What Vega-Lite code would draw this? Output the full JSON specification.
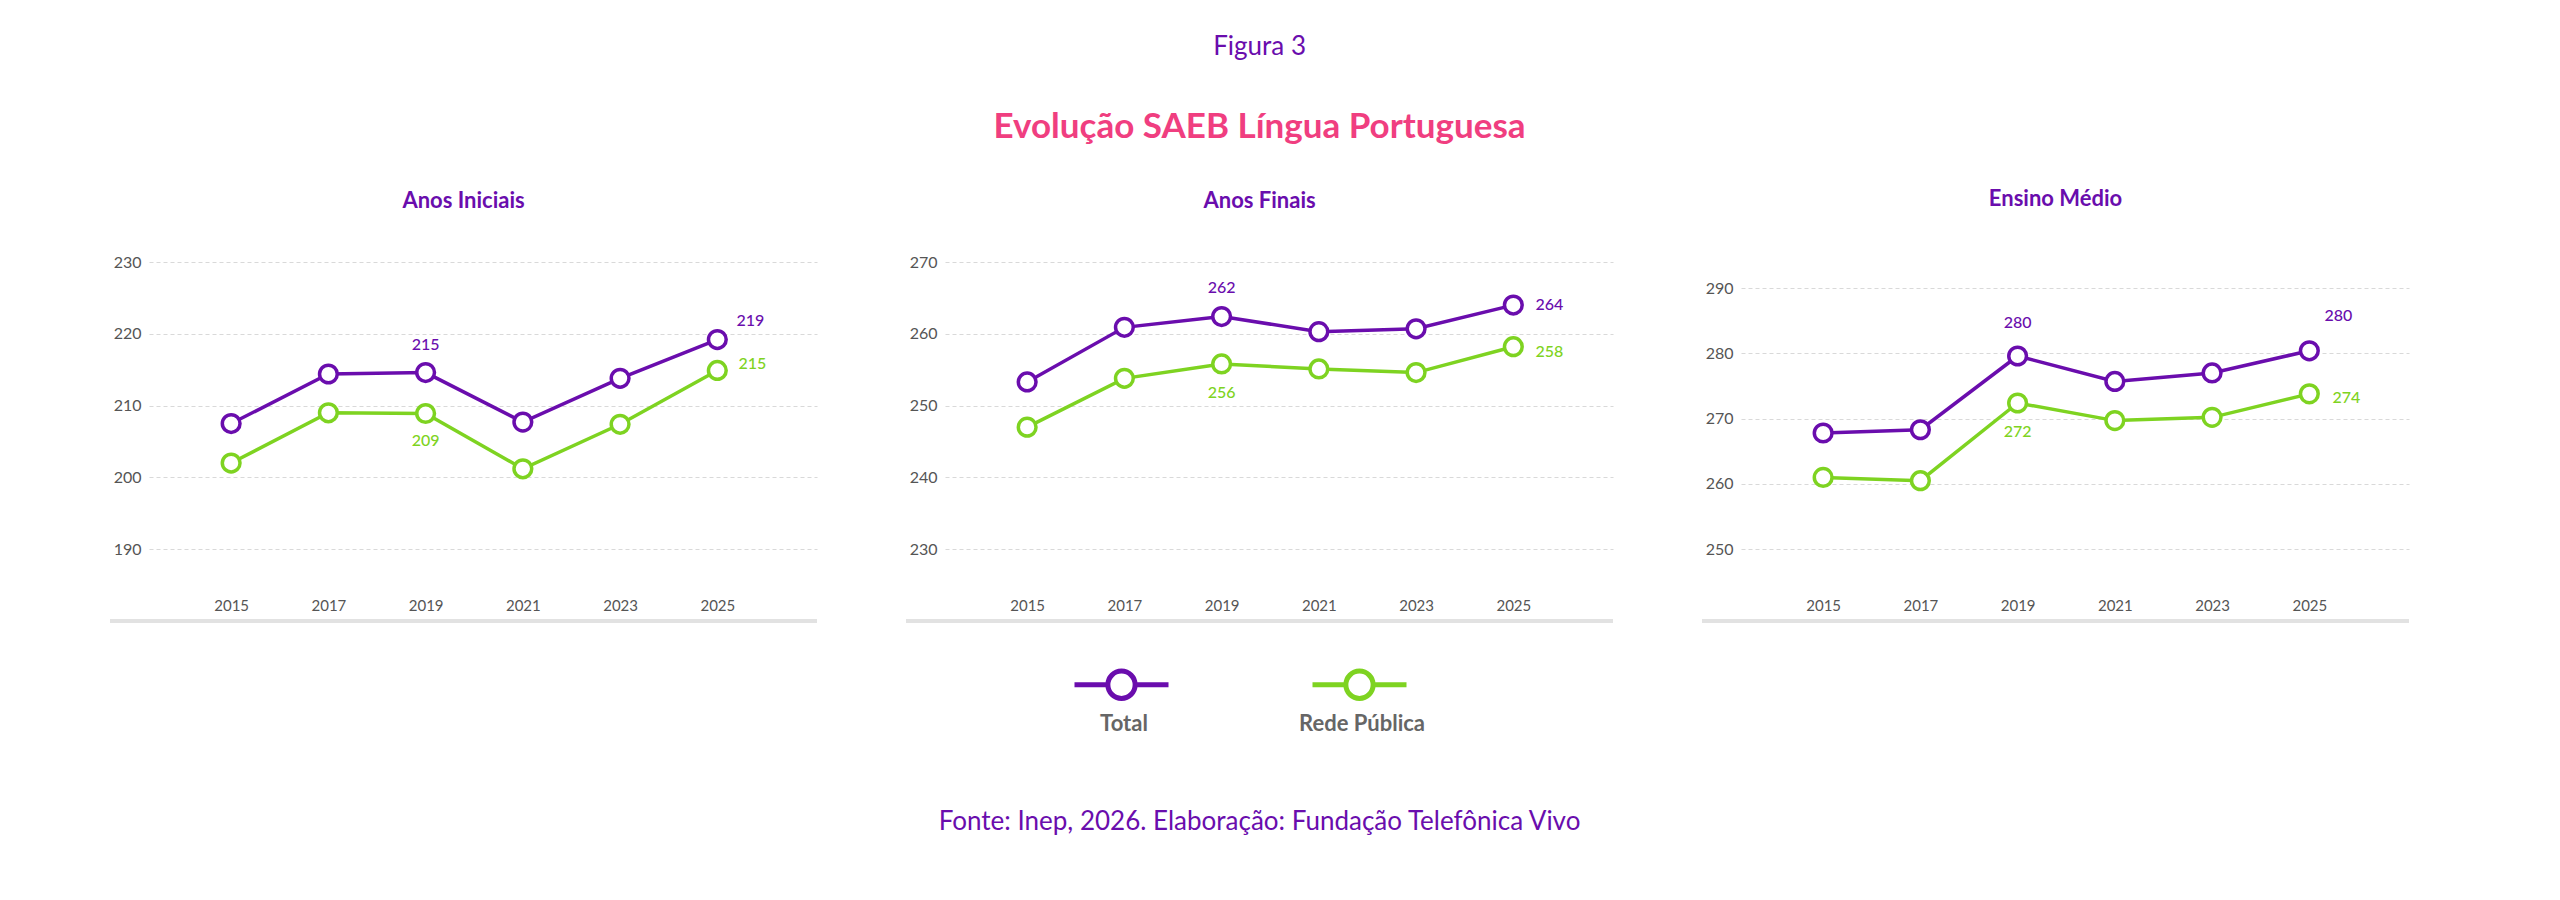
{
  "$schema": "https://vega.github.io/schema/vega-lite/v6.json",
  "padding": {"left": 108, "top": 34, "right": 5, "bottom": 5},
  "data": {
    "values": [
      {"painel": "Anos Iniciais", "serie": "Total", "ano": 2015, "valor": 207.5},
      {"painel": "Anos Iniciais", "serie": "Total", "ano": 2017, "valor": 214.4},
      {"painel": "Anos Iniciais", "serie": "Total", "ano": 2019, "valor": 214.6},
      {"painel": "Anos Iniciais", "serie": "Total", "ano": 2021, "valor": 207.7},
      {"painel": "Anos Iniciais", "serie": "Total", "ano": 2023, "valor": 213.8},
      {"painel": "Anos Iniciais", "serie": "Total", "ano": 2025, "valor": 219.2},
      {"painel": "Anos Iniciais", "serie": "Rede Pública", "ano": 2015, "valor": 202.0},
      {"painel": "Anos Iniciais", "serie": "Rede Pública", "ano": 2017, "valor": 209.0},
      {"painel": "Anos Iniciais", "serie": "Rede Pública", "ano": 2019, "valor": 208.9},
      {"painel": "Anos Iniciais", "serie": "Rede Pública", "ano": 2021, "valor": 201.2},
      {"painel": "Anos Iniciais", "serie": "Rede Pública", "ano": 2023, "valor": 207.4},
      {"painel": "Anos Iniciais", "serie": "Rede Pública", "ano": 2025, "valor": 214.9},
      {"painel": "Anos Finais", "serie": "Total", "ano": 2015, "valor": 253.3},
      {"painel": "Anos Finais", "serie": "Total", "ano": 2017, "valor": 260.9},
      {"painel": "Anos Finais", "serie": "Total", "ano": 2019, "valor": 262.4},
      {"painel": "Anos Finais", "serie": "Total", "ano": 2021, "valor": 260.3},
      {"painel": "Anos Finais", "serie": "Total", "ano": 2023, "valor": 260.7},
      {"painel": "Anos Finais", "serie": "Total", "ano": 2025, "valor": 264.0},
      {"painel": "Anos Finais", "serie": "Rede Pública", "ano": 2015, "valor": 247.0},
      {"painel": "Anos Finais", "serie": "Rede Pública", "ano": 2017, "valor": 253.8},
      {"painel": "Anos Finais", "serie": "Rede Pública", "ano": 2019, "valor": 255.8},
      {"painel": "Anos Finais", "serie": "Rede Pública", "ano": 2021, "valor": 255.1},
      {"painel": "Anos Finais", "serie": "Rede Pública", "ano": 2023, "valor": 254.6},
      {"painel": "Anos Finais", "serie": "Rede Pública", "ano": 2025, "valor": 258.2},
      {"painel": "Ensino Médio", "serie": "Total", "ano": 2015, "valor": 267.8},
      {"painel": "Ensino Médio", "serie": "Total", "ano": 2017, "valor": 268.3},
      {"painel": "Ensino Médio", "serie": "Total", "ano": 2019, "valor": 279.6},
      {"painel": "Ensino Médio", "serie": "Total", "ano": 2021, "valor": 275.7},
      {"painel": "Ensino Médio", "serie": "Total", "ano": 2023, "valor": 277.0},
      {"painel": "Ensino Médio", "serie": "Total", "ano": 2025, "valor": 280.4},
      {"painel": "Ensino Médio", "serie": "Rede Pública", "ano": 2015, "valor": 261.0},
      {"painel": "Ensino Médio", "serie": "Rede Pública", "ano": 2017, "valor": 260.5},
      {"painel": "Ensino Médio", "serie": "Rede Pública", "ano": 2019, "valor": 272.4},
      {"painel": "Ensino Médio", "serie": "Rede Pública", "ano": 2021, "valor": 269.7},
      {"painel": "Ensino Médio", "serie": "Rede Pública", "ano": 2023, "valor": 270.2},
      {"painel": "Ensino Médio", "serie": "Rede Pública", "ano": 2025, "valor": 273.8}
    ]
  },
  "title": {
    "text": "Figura 3",
    "subtitle": "Evolução SAEB Língua Portuguesa",
    "anchor": "middle",
    "frame": "bounds",
    "font": "Lato",
    "fontSize": 26,
    "fontWeight": "normal",
    "color": "#6A0DAD",
    "subtitleFont": "Lato",
    "subtitleFontSize": 35,
    "subtitleFontWeight": "bold",
    "subtitleColor": "#F03E80",
    "subtitlePadding": 50,
    "offset": 43
  },
  "vconcat": [
    {
      "title": {
        "text": "Fonte: Inep, 2026. Elaboração: Fundação Telefônica Vivo",
        "orient": "bottom",
        "anchor": "middle",
        "frame": "bounds",
        "offset": 186,
        "font": "Lato",
        "fontSize": 26,
        "fontWeight": "normal",
        "color": "#6A0DAD"
      },
      "bounds": "flush",
      "spacing": 128,
      "hconcat": [
        {
          "title": {"text": "Anos Iniciais", "offset": 41},
          "width": 668,
          "height": 359,
          "transform": [{"filter": "datum.painel == 'Anos Iniciais'"}],
          "encoding": {
            "x": {"field": "ano", "type": "quantitative", "scale": {"domain": [2013.31, 2027.05], "nice": false, "zero": false}, "axis": {"values": [2015, 2017, 2019, 2021, 2023, 2025]}},
            "y": {"field": "valor", "type": "quantitative", "scale": {"domain": [180, 230], "nice": false, "zero": false}, "axis": {"values": [190, 200, 210, 220, 230]}},
            "color": {"field": "serie", "type": "nominal", "scale": {"domain": ["Total", "Rede Pública"], "range": ["#6A0DAD", "#7ED321"]}, "legend": null}
          },
          "layer": [
            {
              "mark": {"type": "rule", "strokeWidth": 4, "clip": false},
              "encoding": {"x": {"datum": 2012.51}, "x2": {"datum": 2027.05}, "y": {"datum": 180}, "color": {"value": "#e2e2e2"}}
            },
            {
              "mark": {"type": "line", "strokeWidth": 3.5},
              "encoding": {
                "stroke": {
                  "field": "serie", "type": "nominal",
                  "scale": {"domain": ["Total", "Rede Pública"], "range": ["#6A0DAD", "#7ED321"]},
                  "legend": {"orient": "none", "legendX": 923, "legendY": 373, "direction": "horizontal", "title": null, "padding": 0, "columnPadding": 119, "symbolType": "M-1,0L-0.29,0M0.29,0L1,0M0.29,0A0.29,0.29,0,1,1,-0.29,0A0.29,0.29,0,1,1,0.29,0ZM0.29,0A0.29,0.29,0,1,0,-0.29,0A0.29,0.29,0,1,0,0.29,0Z", "symbolSize": 8836, "symbolStrokeWidth": 5, "symbolOpacity": 1, "symbolFillColor": "white", "labelFont": "Lato", "labelFontSize": 22, "labelFontWeight": "bold", "labelColor": "#666666", "labelAlign": "center", "labelOffset": -47, "encoding": {"labels": {"dy": {"value": 39}}}}
                }
              }
            },
            {
              "mark": {"type": "point", "filled": false, "fill": "white", "fillOpacity": 1, "opacity": 1, "size": 314, "strokeWidth": 3.5},
              "encoding": {"stroke": {"field": "serie", "type": "nominal", "scale": {"domain": ["Total", "Rede Pública"], "range": ["#6A0DAD", "#7ED321"]}, "legend": null}}
            },
            {"transform": [{"filter": "datum.ano == 2019 && datum.serie == 'Total'"}], "mark": {"type": "text", "dy": -28}, "encoding": {"text": {"field": "valor", "type": "quantitative", "format": ".0f"}}},
            {"transform": [{"filter": "datum.ano == 2025 && datum.serie == 'Total'"}], "mark": {"type": "text", "dx": 33, "dy": -19}, "encoding": {"text": {"field": "valor", "type": "quantitative", "format": ".0f"}}},
            {"transform": [{"filter": "datum.ano == 2019 && datum.serie == 'Rede Pública'"}], "mark": {"type": "text", "dy": 28}, "encoding": {"text": {"field": "valor", "type": "quantitative", "format": ".0f"}}},
            {"transform": [{"filter": "datum.ano == 2025 && datum.serie == 'Rede Pública'"}], "mark": {"type": "text", "dx": 35, "dy": -6}, "encoding": {"text": {"field": "valor", "type": "quantitative", "format": ".0f"}}}
          ]
        },
        {
          "title": {"text": "Anos Finais", "offset": 41},
          "width": 668,
          "height": 359,
          "transform": [{"filter": "datum.painel == 'Anos Finais'"}],
          "encoding": {
            "x": {"field": "ano", "type": "quantitative", "scale": {"domain": [2013.31, 2027.05], "nice": false, "zero": false}, "axis": {"values": [2015, 2017, 2019, 2021, 2023, 2025]}},
            "y": {"field": "valor", "type": "quantitative", "scale": {"domain": [220, 270], "nice": false, "zero": false}, "axis": {"values": [230, 240, 250, 260, 270]}},
            "color": {"field": "serie", "type": "nominal", "scale": {"domain": ["Total", "Rede Pública"], "range": ["#6A0DAD", "#7ED321"]}, "legend": null}
          },
          "layer": [
            {
              "mark": {"type": "rule", "strokeWidth": 4, "clip": false},
              "encoding": {"x": {"datum": 2012.51}, "x2": {"datum": 2027.05}, "y": {"datum": 220}, "color": {"value": "#e2e2e2"}}
            },
            {
              "mark": {"type": "line", "strokeWidth": 3.5},
              "encoding": {"stroke": {"field": "serie", "type": "nominal", "scale": {"domain": ["Total", "Rede Pública"], "range": ["#6A0DAD", "#7ED321"]}, "legend": null}}
            },
            {
              "mark": {"type": "point", "filled": false, "fill": "white", "fillOpacity": 1, "opacity": 1, "size": 314, "strokeWidth": 3.5},
              "encoding": {"stroke": {"field": "serie", "type": "nominal", "scale": {"domain": ["Total", "Rede Pública"], "range": ["#6A0DAD", "#7ED321"]}, "legend": null}}
            },
            {"transform": [{"filter": "datum.ano == 2019 && datum.serie == 'Total'"}], "mark": {"type": "text", "dy": -29}, "encoding": {"text": {"field": "valor", "type": "quantitative", "format": ".0f"}}},
            {"transform": [{"filter": "datum.ano == 2025 && datum.serie == 'Total'"}], "mark": {"type": "text", "dx": 36, "dy": 0}, "encoding": {"text": {"field": "valor", "type": "quantitative", "format": ".0f"}}},
            {"transform": [{"filter": "datum.ano == 2019 && datum.serie == 'Rede Pública'"}], "mark": {"type": "text", "dy": 29}, "encoding": {"text": {"field": "valor", "type": "quantitative", "format": ".0f"}}},
            {"transform": [{"filter": "datum.ano == 2025 && datum.serie == 'Rede Pública'"}], "mark": {"type": "text", "dx": 36, "dy": 5}, "encoding": {"text": {"field": "valor", "type": "quantitative", "format": ".0f"}}}
          ]
        },
        {
          "title": {"text": "Ensino Médio", "offset": 51},
          "width": 668,
          "height": 359,
          "transform": [{"filter": "datum.painel == 'Ensino Médio'"}],
          "encoding": {
            "x": {"field": "ano", "type": "quantitative", "scale": {"domain": [2013.31, 2027.05], "nice": false, "zero": false}, "axis": {"values": [2015, 2017, 2019, 2021, 2023, 2025]}},
            "y": {"field": "valor", "type": "quantitative", "scale": {"domain": [239, 294], "nice": false, "zero": false}, "axis": {"values": [250, 260, 270, 280, 290]}},
            "color": {"field": "serie", "type": "nominal", "scale": {"domain": ["Total", "Rede Pública"], "range": ["#6A0DAD", "#7ED321"]}, "legend": null}
          },
          "layer": [
            {
              "mark": {"type": "rule", "strokeWidth": 4, "clip": false},
              "encoding": {"x": {"datum": 2012.51}, "x2": {"datum": 2027.05}, "y": {"datum": 239}, "color": {"value": "#e2e2e2"}}
            },
            {
              "mark": {"type": "line", "strokeWidth": 3.5},
              "encoding": {"stroke": {"field": "serie", "type": "nominal", "scale": {"domain": ["Total", "Rede Pública"], "range": ["#6A0DAD", "#7ED321"]}, "legend": null}}
            },
            {
              "mark": {"type": "point", "filled": false, "fill": "white", "fillOpacity": 1, "opacity": 1, "size": 314, "strokeWidth": 3.5},
              "encoding": {"stroke": {"field": "serie", "type": "nominal", "scale": {"domain": ["Total", "Rede Pública"], "range": ["#6A0DAD", "#7ED321"]}, "legend": null}}
            },
            {"transform": [{"filter": "datum.ano == 2019 && datum.serie == 'Total'"}], "mark": {"type": "text", "dy": -33}, "encoding": {"text": {"field": "valor", "type": "quantitative", "format": ".0f"}}},
            {"transform": [{"filter": "datum.ano == 2025 && datum.serie == 'Total'"}], "mark": {"type": "text", "dx": 29, "dy": -35}, "encoding": {"text": {"field": "valor", "type": "quantitative", "format": ".0f"}}},
            {"transform": [{"filter": "datum.ano == 2019 && datum.serie == 'Rede Pública'"}], "mark": {"type": "text", "dy": 29}, "encoding": {"text": {"field": "valor", "type": "quantitative", "format": ".0f"}}},
            {"transform": [{"filter": "datum.ano == 2025 && datum.serie == 'Rede Pública'"}], "mark": {"type": "text", "dx": 37, "dy": 4}, "encoding": {"text": {"field": "valor", "type": "quantitative", "format": ".0f"}}}
          ]
        }
      ]
    }
  ],
  "config": {
    "font": "Lato",
    "view": {"stroke": null},
    "title": {"anchor": "middle", "frame": "bounds", "font": "Lato", "fontSize": 22, "fontWeight": "bold", "color": "#6A0DAD", "offset": 55},
    "text": {"font": "Lato", "fontSize": 16, "fontWeight": 500},
    "axisX": {"title": null, "format": "d", "domain": false, "ticks": false, "tickSize": 0, "grid": false, "labelPadding": -16, "labelBaseline": "middle", "labelFont": "Lato", "labelFontSize": 15, "labelColor": "#555555"},
    "axisY": {"title": null, "domain": false, "ticks": false, "tickSize": 0, "labelPadding": 8, "labelFont": "Lato", "labelFontSize": 16, "labelColor": "#555555", "grid": true, "gridColor": "#d9d9d9", "gridDash": [4, 3], "gridWidth": 1}
  }
}
